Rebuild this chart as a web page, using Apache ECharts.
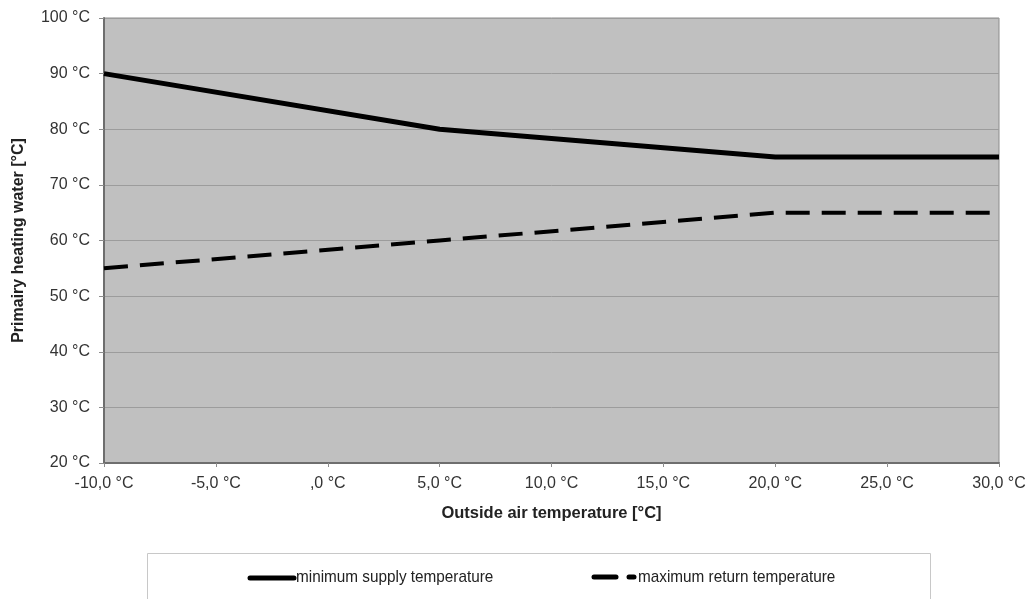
<!DOCTYPE html>
<html>
<head>
<meta charset="utf-8">
<script src="https://cdn.jsdelivr.net/npm/echarts@6/dist/echarts.min.js"></script>
<style>
  html, body { margin: 0; padding: 0; background: #fff; }
  #chart { width: 1029px; height: 599px; }
</style>
</head>
<body>
<div id="chart"></div>
<script>
// Outside air temperature breakpoints [°C]
const outsideTemps = [-10, 5, 20, 30];
// Primary heating water temperatures [°C]
const minSupply = [90, 80, 75, 75];
const maxReturn = [55, 60, 65, 65];
const seriesNames = ['minimum supply temperature', 'maximum return temperature'];
const xAxisTitle = 'Outside air temperature [°C]';
const yAxisTitle = 'Primairy heating water [°C]';

const pairs = (xs, ys) => xs.map((x, i) => [x, ys[i]]);

// "-10,0 °C", ",0 °C" style labels with comma decimals
function xLabel(v) {
  if (v === 0) return ',0 °C';
  return v.toFixed(1).replace('.', ',') + ' °C';
}

const chart = echarts.init(document.getElementById('chart'));
const font = 'Liberation Sans, Arial, sans-serif';

// Legend drawn as a framed strip below the plot; labels are slightly condensed
const legendY = 577;
function legendText(x, text) {
  return {
    type: 'text', x: x, y: legendY, scaleX: 0.9, originX: 0,
    style: { text: text, font: '17px ' + font, fill: '#222', verticalAlign: 'middle' }
  };
}
const legendGraphics = [
  { type: 'rect', left: 147, top: 553, z: -1,
    shape: { width: 783, height: 60 },
    style: { fill: '#ffffff', stroke: '#c8c8c8', lineWidth: 1 } },
  { type: 'line', shape: { x1: 250, y1: legendY + 1, x2: 294, y2: legendY + 1 },
    style: { stroke: '#000', lineWidth: 5, lineCap: 'round' } },
  legendText(296, seriesNames[0]),
  { type: 'line', shape: { x1: 594, y1: legendY, x2: 616, y2: legendY },
    style: { stroke: '#000', lineWidth: 5, lineCap: 'round' } },
  { type: 'line', shape: { x1: 629, y1: legendY, x2: 634, y2: legendY },
    style: { stroke: '#000', lineWidth: 5, lineCap: 'round' } },
  legendText(638, seriesNames[1])
];

chart.setOption({
  animation: false,
  backgroundColor: '#ffffff',
  textStyle: { fontFamily: font },
  grid: {
    left: 104, right: 30, top: 18, bottom: 136,
    outerBoundsMode: 'none', containLabel: false,
    show: true, backgroundColor: '#c0c0c0',
    borderColor: '#8c8c8c', borderWidth: 1
  },
  xAxis: {
    type: 'value', min: -10, max: 30, interval: 5,
    name: xAxisTitle, nameLocation: 'middle', nameGap: 42,
    nameTextStyle: { fontFamily: font, fontSize: 16.5, fontWeight: 'bold', color: '#222' },
    axisLine: { show: true, onZero: false, lineStyle: { color: '#6e6e6e', width: 2 } },
    axisTick: { show: true, length: 4, lineStyle: { color: '#8c8c8c' } },
    axisLabel: { formatter: xLabel, fontSize: 16, color: '#333', margin: 13 },
    splitLine: { show: false }
  },
  yAxis: {
    type: 'value', min: 20, max: 100, interval: 10,
    name: yAxisTitle, nameLocation: 'middle', nameGap: 77, nameRotate: 90,
    nameTextStyle: { fontFamily: font, fontSize: 16, fontWeight: 'bold', color: '#222' },
    axisLine: { show: true, onZero: false, lineStyle: { color: '#6e6e6e', width: 2 } },
    axisTick: { show: true, length: 5, lineStyle: { color: '#8c8c8c' } },
    axisLabel: { formatter: v => v + ' °C', fontSize: 16, color: '#333', margin: 14 },
    splitLine: { show: true, lineStyle: { color: '#9c9c9c', width: 1 } }
  },
  graphic: legendGraphics,
  series: [
    {
      name: seriesNames[0], type: 'line', data: pairs(outsideTemps, minSupply),
      symbol: 'none', lineStyle: { color: '#000', width: 5 },
      itemStyle: { color: '#000' }
    },
    {
      name: seriesNames[1], type: 'line', data: pairs(outsideTemps, maxReturn),
      symbol: 'none', lineStyle: { color: '#000', width: 4, type: [24, 12] },
      itemStyle: { color: '#000' }
    }
  ]
});
</script>
</body>
</html>
